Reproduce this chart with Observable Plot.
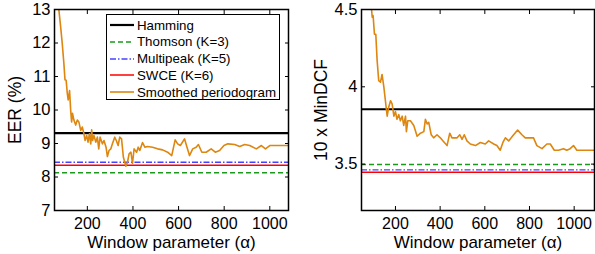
<!DOCTYPE html>
<html>
<head>
<meta charset="utf-8">
<script src="https://cdn.jsdelivr.net/npm/d3@7"></script>
<script src="https://cdn.jsdelivr.net/npm/@observablehq/plot@0.6"></script>
<style>
  html, body { margin: 0; padding: 0; background: #fff; }
  #wrap { position: relative; width: 595px; height: 254px; font-family: "Liberation Sans", Arial, Helvetica, sans-serif; }
  .panel { position: absolute; top: 0; }
  #legend { position: absolute; left: 106px; top: 14px; width: 172px; height: 84px; border: 1.5px solid #000; background: #fff; font-size: 13.3px; }
  .row { position: absolute; left: 0; height: 16px; display: flex; align-items: center; }
  .row svg { margin-left: 3px; margin-right: 3px; }
</style>
</head>
<body>
<div id="wrap">
  <div id="left" class="panel" style="left:0"></div>
  <div id="right" class="panel" style="left:300px"></div>
  <div id="legend"></div>
</div>
<script>
// ---- data ----
const seriesNames = ["Hamming", "Thomson (K=3)", "Multipeak (K=5)", "SWCE (K=6)", "Smoothed periodogram"];
const eerBaselines = [9.31, 8.13, 8.44, 8.35];      // Hamming, Thomson, Multipeak, SWCE
const dcfBaselines = [3.855, 3.497, 3.463, 3.447];

const alphaL = [60, 68, 75, 83, 90, 97, 102, 107, 112, 116, 122, 127, 131, 135, 141, 149, 156, 163, 171, 178, 185, 190, 197, 203, 209, 215, 219, 223, 229, 237, 244, 250, 256, 266, 273, 282, 288, 295, 303, 310, 320, 327, 335, 342, 350, 358, 369, 376, 383, 391, 398, 405, 416, 423, 430, 442, 452, 464, 486, 508, 530, 552, 570, 585, 596, 608, 626, 637, 648, 662, 677, 687, 702, 721, 743, 761, 780, 799, 816, 846, 868, 890, 912, 941, 963, 981, 1000, 1022, 1051, 1084];
const eerSmooth = [14.0, 13.5, 13.0, 12.48, 11.98, 11.4, 10.9, 10.89, 10.5, 10.3, 10.58, 9.99, 9.64, 9.9, 9.7, 9.55, 9.7, 9.64, 9.39, 9.49, 9.29, 9.09, 9.24, 9.04, 9.29, 8.99, 9.41, 9.09, 9.24, 9.04, 9.19, 8.84, 9.19, 8.99, 9.09, 8.89, 8.61, 8.79, 8.84, 8.99, 9.19, 9.09, 8.94, 9.19, 9.14, 8.59, 8.32, 8.44, 8.69, 8.74, 8.41, 8.84, 8.74, 8.89, 8.79, 9.03, 8.89, 8.91, 8.89, 8.84, 8.81, 8.74, 8.64, 9.11, 8.99, 8.94, 9.14, 8.89, 8.64, 8.84, 8.89, 8.97, 8.74, 8.74, 8.84, 8.74, 8.79, 8.94, 8.99, 8.97, 8.91, 8.97, 8.94, 8.84, 8.94, 8.84, 8.94, 8.94, 8.94, 8.94];

const alphaR = [85, 90, 93, 96, 100, 106, 112, 118, 125, 133, 140, 148, 155, 163, 170, 178, 185, 193, 200, 207, 215, 222, 230, 237, 245, 249, 255, 267, 282, 297, 312, 327, 334, 342, 349, 360, 371, 386, 401, 413, 431, 443, 453, 476, 488, 498, 508, 520, 535, 558, 580, 602, 617, 640, 654, 669, 681, 692, 707, 729, 747, 766, 781, 803, 818, 833, 856, 878, 893, 911, 930, 952, 967, 982, 997, 1012, 1034, 1091];
const dcfSmooth = [4.7, 4.58, 4.5, 4.45, 4.46, 4.34, 4.34, 4.17, 4.04, 4.03, 4.08, 4.0, 3.91, 3.81, 3.87, 3.91, 3.89, 3.81, 3.84, 3.79, 3.82, 3.78, 3.81, 3.75, 3.81, 3.71, 3.78, 3.78, 3.75, 3.68, 3.70, 3.71, 3.79, 3.76, 3.77, 3.69, 3.67, 3.69, 3.67, 3.65, 3.62, 3.70, 3.67, 3.67, 3.69, 3.66, 3.69, 3.65, 3.63, 3.62, 3.64, 3.63, 3.65, 3.63, 3.62, 3.59, 3.64, 3.67, 3.65, 3.69, 3.72, 3.69, 3.67, 3.67, 3.67, 3.62, 3.60, 3.63, 3.63, 3.59, 3.59, 3.60, 3.59, 3.60, 3.62, 3.59, 3.59, 3.59];

const xTicks = [200, 400, 600, 800, 1000];
const eerTicks = [7, 8, 9, 10, 11, 12, 13];
const dcfTicks = [3.5, 4, 4.5];

// ---- styles ----
const styles = [
  {stroke: "#000000", strokeWidth: 2.2},
  {stroke: "#1a9a1a", strokeWidth: 1.5, strokeDasharray: "5,3"},
  {stroke: "#4444ff", strokeWidth: 1.3, strokeDasharray: "6,2,1.5,2"},
  {stroke: "#ff0000", strokeWidth: 1.5},
  {stroke: "#dd8610", strokeWidth: 1.6}
];
const FONT = "'Liberation Sans', Arial, Helvetica, sans-serif";

function panel({width, marginLeft, marginRight, xDomain, yDomain, yTicks, baselines, alpha, values, ylabel, ylabelDx}) {
  const pts = alpha.map((a, i) => ({a, v: values[i]}));
  return Plot.plot({
    width, height: 254,
    marginLeft, marginRight, marginTop: 9, marginBottom: 44,
    style: {fontFamily: FONT, fontSize: "16px", color: "#000", background: "#fff", overflow: "visible"},
    x: {domain: xDomain},
    y: {domain: yDomain},
    marks: [
      ...baselines.map((b, i) => Plot.ruleY([b], {...styles[i]})).reverse(),
      Plot.line(pts, {x: "a", y: "v", ...styles[4], clip: true}),
      Plot.axisX({ticks: xTicks, tickSize: -4, tickPadding: 11, tickFormat: d => String(d), label: null, fontSize: 16}),
      Plot.axisX({anchor: "top", ticks: xTicks, tickSize: -4, tickFormat: () => "", label: null}),
      Plot.axisY({ticks: yTicks, tickSize: -4, tickPadding: 8, tickFormat: d => String(d), label: null, fontSize: 16.5}),
      Plot.axisY({anchor: "right", ticks: yTicks, tickSize: -4, tickFormat: () => "", label: null}),
      Plot.frame({stroke: "#000", strokeWidth: 1.5}),
      Plot.text(["Window parameter (α)"], {frameAnchor: "bottom", dy: 32, lineAnchor: "middle", fontSize: 17, fill: "#000"}),
      Plot.text([ylabel], {frameAnchor: "left", dx: ylabelDx, rotate: -90, lineAnchor: "middle", textAnchor: "middle", fontSize: 17.5, fill: "#000"})
    ]
  });
}

document.getElementById("left").appendChild(panel({
  width: 300, marginLeft: 54, marginRight: 12, xDomain: [56, 1082], yDomain: [7, 13],
  yTicks: eerTicks, baselines: eerBaselines, alpha: alphaL, values: eerSmooth, ylabel: "EER (%)", ylabelDx: -39
}));
document.getElementById("right").appendChild(panel({
  width: 295, marginLeft: 61, marginRight: 1, xDomain: [48, 1091], yDomain: [3.2, 4.5],
  yTicks: dcfTicks, baselines: dcfBaselines, alpha: alphaR, values: dcfSmooth, ylabel: "10 x MinDCF", ylabelDx: -40
}));

// ---- legend ----
const legend = document.getElementById("legend");
seriesNames.forEach((name, i) => {
  const row = document.createElement("div");
  row.className = "row";
  row.style.top = (2 + i * 16.8) + "px";
  const s = styles[i];
  row.innerHTML = `<svg width="24" height="10"><line x1="0" x2="24" y1="5" y2="5" stroke="${s.stroke}" stroke-width="${s.strokeWidth}" ${s.strokeDasharray ? `stroke-dasharray="${s.strokeDasharray}"` : ""}/></svg><span>${name}</span>`;
  legend.appendChild(row);
});
</script>
</body>
</html>
